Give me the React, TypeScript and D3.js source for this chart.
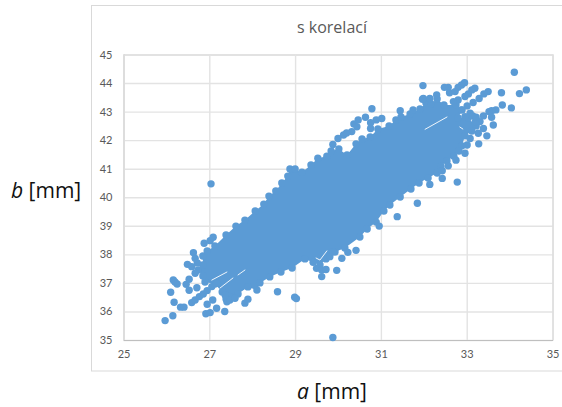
import * as d3 from "d3";
import React, { useEffect, useRef } from "react";

const title = "s korelací";
const xTicks = [25, 27, 29, 31, 33, 35];
const yTicks = [35, 36, 37, 38, 39, 40, 41, 42, 43, 44, 45];

// single points: [a, b]
const lowerTail: [number, number][] = [
  [25.97, 35.68], [26.15, 35.85], [26.1, 36.67], [26.18, 36.32], [26.33, 36.15], [26.41, 36.15],
  [26.16, 37.1], [26.25, 36.96], [26.2, 37.03], [26.46, 36.95], [26.53, 37.13], [26.53, 36.74],
  [26.71, 36.83], [26.49, 37.65], [26.63, 38.06], [26.67, 37.86], [26.72, 37.7], [26.59, 37.57],
  [26.67, 37.34], [26.88, 38.39], [27.02, 38.48], [27.09, 38.6], [26.59, 36.31], [26.67, 36.4],
  [26.77, 36.52], [26.86, 36.61], [26.95, 36.73], [27.06, 36.87], [27.17, 36.99], [26.95, 36.25],
  [27.08, 36.4], [26.92, 35.92], [27.02, 35.96], [27.17, 36.11], [27.36, 36.0], [27.41, 36.34],
  [27.48, 36.4], [27.6, 36.46], [27.37, 36.58], [27.83, 36.29], [27.9, 36.43], [28.59, 36.69],
];

// points below the cloud, middle of the chart
const lowerEdge: [number, number][] = [
  [28.99, 36.5], [29.03, 36.45], [29.88, 35.09], [29.62, 37.22], [29.97, 37.44], [30.09, 37.86],
  [30.23, 38.07], [30.42, 38.14], [29.5, 37.51], [29.62, 37.45], [29.72, 37.47], [29.42, 37.72],
  [29.81, 37.92], [29.88, 38.09], [27.04, 40.47], [31.85, 39.79], [31.38, 39.32], [30.96, 38.99],
];

// single points
const upperTail: [number, number][] = [
  [34.11, 44.38], [34.39, 43.76], [34.23, 43.63], [33.81, 43.66], [33.83, 43.23], [34.04, 43.13],
  [31.98, 43.91], [32.95, 44.01], [32.88, 43.93], [32.8, 43.85], [32.57, 43.85], [32.48, 43.85],
  [32.6, 43.66], [32.73, 43.7], [33.5, 43.7], [33.4, 43.62], [33.19, 43.82], [33.12, 43.76],
  [33.04, 43.62], [32.96, 43.53], [33.29, 43.46], [33.15, 43.32], [33.01, 43.2], [32.88, 43.06],
  [32.8, 43.41], [32.69, 43.35], [33.68, 43.06], [33.58, 43.03], [33.52, 43.0], [33.58, 42.8],
  [33.62, 42.53], [33.39, 42.85], [33.47, 42.15], [33.28, 41.87], [33.01, 41.83], [32.96, 41.54],
  [33.08, 42.94], [32.96, 42.82], [33.31, 42.65], [33.39, 42.41], [33.27, 42.24], [33.08, 42.06],
  [32.78, 40.53], [32.43, 40.66], [32.14, 40.45], [32.57, 41.1], [32.75, 41.3], [32.43, 40.93],
  [31.99, 43.46], [32.3, 43.58], [32.14, 43.46], [31.45, 43.03], [31.75, 43.06], [33.2, 42.65],
  [33.14, 42.85], [33.22, 42.8],
];

// points above the cloud, middle of the chart
const upperEdge: [number, number][] = [
  [30.79, 43.1], [30.64, 42.8], [30.47, 42.71], [30.37, 42.57], [30.44, 42.47], [31.02, 42.76],
  [30.89, 42.71], [30.76, 42.61], [30.76, 42.41], [31.97, 43.43], [30.13, 42.18], [30.0, 42.06],
  [30.32, 42.3], [30.2, 42.25], [29.88, 41.85],
];

// the middle of the cloud is fully overplotted, so only its outermost points can be read
const coreOutline: [number, number][] = [
  [26.85, 37.94], [26.95, 38.12], [27.13, 38.29], [27.39, 38.68], [27.62, 38.99], [27.83, 39.2],
  [28.07, 39.52], [28.27, 39.76], [28.39, 40.04], [28.55, 40.22], [28.69, 40.5], [28.83, 40.74],
  [28.88, 40.99], [29.0, 40.99], [29.16, 40.88], [29.37, 41.13], [29.53, 41.37], [29.74, 41.44],
  [29.84, 41.62], [30.02, 41.69], [30.21, 41.48], [30.42, 41.87], [30.56, 42.04], [30.75, 42.11],
  [30.93, 42.39], [31.19, 42.5], [31.35, 42.71], [31.47, 42.81], [31.68, 42.92], [31.91, 43.09],
  [32.05, 43.3], [32.17, 43.27], [32.31, 43.44], [32.47, 43.23], [32.75, 43.23], [32.89, 43.06],
  [32.8, 42.78], [33.03, 42.78], [33.22, 42.5], [33.12, 42.32], [32.96, 42.15], [32.89, 41.8],
  [32.82, 41.62], [32.7, 41.44], [32.54, 41.27], [32.4, 41.09], [32.31, 40.85], [32.1, 40.67],
  [31.89, 40.5], [31.7, 40.29], [31.45, 40.01], [31.21, 39.73], [31.07, 39.52], [30.89, 39.13],
  [30.68, 38.89], [30.51, 38.61], [30.16, 38.22], [29.93, 38.08], [29.72, 37.84], [29.58, 37.63],
  [29.23, 37.84], [28.93, 37.52], [28.67, 37.38], [28.41, 37.21], [28.18, 37.0], [28.11, 36.75],
  [27.9, 36.86], [27.67, 36.61], [27.48, 36.51], [27.39, 36.44], [27.3, 36.68], [27.13, 36.96],
  [26.9, 37.03], [26.85, 37.24], [26.74, 37.45], [26.85, 37.63],
];

// thin white gaps left inside the cloud
const gaps: [number, number][][] = [
  [[27.06, 37.1], [27.41, 37.38]],
  [[27.25, 36.82], [27.55, 37.17]],
  [[27.67, 37.28], [27.83, 37.45]],
  [[29.49, 37.87], [29.58, 37.8], [29.74, 38.12]],
  [[32.03, 42.38], [32.54, 42.81]],
  [[32.84, 42.46], [32.91, 42.39]],
];

const width = 562;
const height = 407;
const blue = "#5b9bd5";
const labelFont = "'Open Sans', sans-serif";
const tickFont = "Lato, sans-serif";

const x = d3.scaleLinear().domain([25, 35]).range([123.5, 552.5]);
const y = d3.scaleLinear().domain([35, 45]).range([340, 54.5]);

export default function App() {
  const ref = useRef<SVGSVGElement>(null);

  useEffect(() => {
    const svg = d3.select(ref.current);
    svg.selectAll("*").remove();

    // chart frame, its right side is cut off by the picture
    svg.append("rect")
      .attr("x", 91.5).attr("y", 5.5)
      .attr("width", 500).attr("height", 365.5)
      .attr("fill", "#fff").attr("stroke", "#d9d9d9");

    const gridY = svg.append("g").attr("transform", "translate(123.5,0)")
      .call(d3.axisLeft(y).tickValues(yTicks).tickSize(-429).tickPadding(11).tickFormat(d3.format("d")));
    const gridX = svg.append("g").attr("transform", "translate(0,340)")
      .call(d3.axisBottom(x).tickValues(xTicks).tickSize(-285.5).tickPadding(10).tickFormat(d3.format("d")));

    [gridX, gridY].forEach((g) => {
      g.select(".domain").attr("stroke", "#bfbfbf").attr("stroke-width", 1);
      g.selectAll(".tick line").attr("stroke", "#e3e3e3").attr("stroke-width", 1.4);
      g.selectAll(".tick text").attr("fill", "#595959").style("font-family", tickFont).style("font-size", "11px");
    });

    const line = d3.line().x((d) => x(d[0])).y((d) => y(d[1]));

    svg.append("path")
      .attr("d", line.curve(d3.curveLinearClosed)(coreOutline))
      .attr("fill", blue);

    svg.append("g")
      .selectAll("circle")
      .data([...coreOutline, ...lowerTail, ...lowerEdge, ...upperTail, ...upperEdge])
      .enter()
      .append("circle")
      .attr("cx", (d) => x(d[0]))
      .attr("cy", (d) => y(d[1]))
      .attr("r", 3.7)
      .attr("fill", blue);

    line.curve(d3.curveLinear);
    svg.append("g")
      .selectAll("path")
      .data(gaps)
      .enter()
      .append("path")
      .attr("d", (d) => line(d))
      .attr("fill", "none")
      .attr("stroke", "#fff")
      .attr("stroke-width", 0.9)
      .attr("stroke-linecap", "round");

    svg.append("text")
      .text(title)
      .attr("x", 332).attr("y", 33)
      .attr("text-anchor", "middle")
      .attr("fill", "#595959")
      .style("font-family", labelFont).style("font-size", "16px");

    const label = (txt: string, px: number, py: number) => {
      const t = svg.append("text").attr("x", px).attr("y", py).attr("fill", "#111")
        .style("font-family", labelFont).style("font-size", "21px");
      t.append("tspan").text(txt).style("font-style", "italic");
      t.append("tspan").text(" [mm]");
    };
    label("b", 11, 198);
    label("a", 297, 399);
  }, []);

  return (
    <svg
      ref={ref}
      width={width}
      height={height}
      style={{ position: "absolute", left: 0, top: 0, background: "#fff" }}
    />
  );
}
